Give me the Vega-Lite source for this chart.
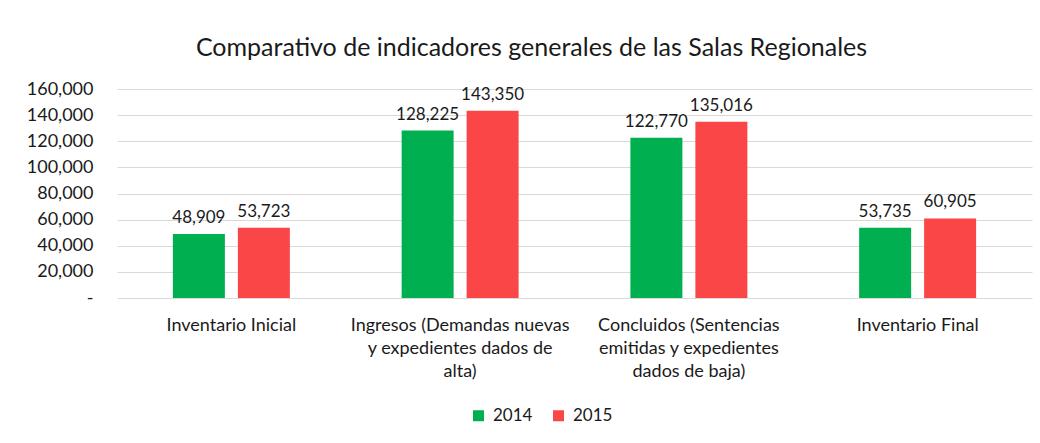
{
  "$schema": "https://vega.github.io/schema/vega-lite/v6.json",
  "width": 915,
  "height": 209,
  "autosize": {"type": "none"},
  "padding": {"left": 117, "top": 89, "right": 8, "bottom": 145},
  "background": "white",
  "title": {
    "text": "Comparativo de indicadores generales de las Salas Regionales",
    "font": "Lato",
    "fontSize": 25,
    "fontWeight": "normal",
    "color": "#1a1a1a",
    "anchor": "middle",
    "dx": -43,
    "offset": 19
  },
  "data": {
    "values": [
      {"indicador": "Inventario Inicial", "anio": "2014", "valor": 48909},
      {"indicador": "Inventario Inicial", "anio": "2015", "valor": 53723},
      {"indicador": "Ingresos (Demandas nuevas y expedientes dados de alta)", "anio": "2014", "valor": 128225},
      {"indicador": "Ingresos (Demandas nuevas y expedientes dados de alta)", "anio": "2015", "valor": 143350},
      {"indicador": "Concluidos (Sentencias emitidas y expedientes dados de baja)", "anio": "2014", "valor": 122770},
      {"indicador": "Concluidos (Sentencias emitidas y expedientes dados de baja)", "anio": "2015", "valor": 135016},
      {"indicador": "Inventario Final", "anio": "2014", "valor": 53735},
      {"indicador": "Inventario Final", "anio": "2015", "valor": 60905}
    ]
  },
  "encoding": {
    "x": {
      "field": "indicador",
      "type": "nominal",
      "sort": null,
      "scale": {"paddingInner": 0, "paddingOuter": 0},
      "axis": {
        "title": null,
        "domain": false,
        "ticks": false,
        "labelAngle": 0,
        "labelFont": "Lato",
        "labelFontSize": 18,
        "labelColor": "#1a1a1a",
        "labelPadding": 18,
        "labelBaseline": "top",
        "labelLineHeight": 23,
        "labelLimit": 300,
        "labelExpr": "datum.label == 'Ingresos (Demandas nuevas y expedientes dados de alta)' ? ['Ingresos (Demandas nuevas', 'y expedientes dados de', 'alta)'] : datum.label == 'Concluidos (Sentencias emitidas y expedientes dados de baja)' ? ['Concluidos (Sentencias', 'emitidas y expedientes', 'dados de baja)'] : datum.label"
      }
    },
    "xOffset": {
      "field": "anio",
      "type": "nominal",
      "scale": {"paddingInner": 0.2, "paddingOuter": 0.86}
    },
    "y": {
      "field": "valor",
      "type": "quantitative",
      "scale": {"domain": [0, 160000]},
      "axis": {
        "title": null,
        "domain": false,
        "ticks": false,
        "values": [0, 20000, 40000, 60000, 80000, 100000, 120000, 140000, 160000],
        "labelExpr": "datum.value == 0 ? '-' : format(datum.value, ',')",
        "labelFont": "Lato",
        "labelFontSize": 18,
        "labelColor": "#1a1a1a",
        "labelPadding": 24,
        "gridColor": "#d9d9d9",
        "gridWidth": 1
      }
    }
  },
  "layer": [
    {
      "mark": {"type": "bar"},
      "encoding": {
        "color": {
          "field": "anio",
          "type": "nominal",
          "scale": {"domain": ["2014", "2015"], "range": ["#00B050", "#FA4646"]},
          "legend": {
            "title": null,
            "orient": "none",
            "direction": "horizontal",
            "legendX": 353,
            "legendY": 318,
            "symbolType": "square",
            "symbolSize": 121,
            "symbolStrokeWidth": 0,
            "labelFont": "Lato",
            "labelFontSize": 17,
            "labelColor": "#1a1a1a",
            "labelOffset": 6,
            "columnPadding": 17
          }
        }
      }
    },
    {
      "mark": {"type": "text", "baseline": "bottom", "dy": -7, "font": "Lato", "fontSize": 17, "color": "#1a1a1a"},
      "encoding": {
        "text": {"field": "valor", "type": "quantitative", "format": ","}
      }
    }
  ],
  "config": {"view": {"stroke": null}}
}
